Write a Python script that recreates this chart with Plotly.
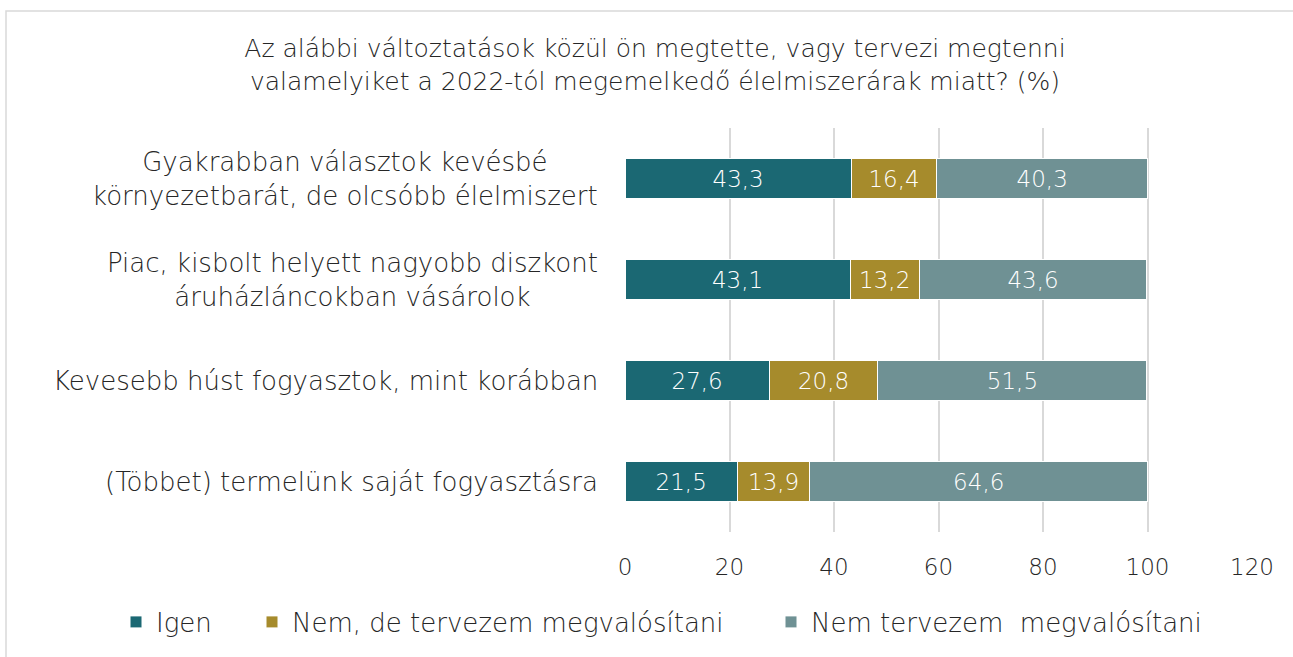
import plotly.graph_objects as go

categories = [
    "Gyakrabban választok kevésbé<br>környezetbarát, de olcsóbb élelmiszert",
    "Piac, kisbolt helyett nagyobb diszkont<br>áruházláncokban vásárolok",
    "Kevesebb húst fogyasztok, mint korábban",
    "(Többet) termelünk saját fogyasztásra",
]
series_names = ["Igen", "Nem, de tervezem megvalósítani", "Nem tervezem  megvalósítani"]
igen = [43.3, 43.1, 27.6, 21.5]
tervezem = [16.4, 13.2, 20.8, 13.9]
nem = [40.3, 43.6, 51.5, 64.6]
tick_vals = [0, 20, 40, 60, 80, 100, 120]
title_text = ("Az alábbi változtatások közül ön megtette, vagy tervezi megtenni<br>"
              "valamelyiket a 2022-tól megemelkedő élelmiszerárak miatt? (%)")

colors = ["#1b6873", "#a68b2c", "#6f9194"]
FONT = "DejaVu Sans ExtraLight, DejaVu Sans"
FW = 200
TXT = "#262626"

W, H = 1293, 657
L, R, T, B = 625, 41, 128, 125
pw, ph = W - L - R, H - T - B

legend_ids = ["legend", "legend2", "legend3"]
legend_px = [116, 252, 771]

fig = go.Figure()
for name, vals, col, lg in zip(series_names, [igen, tervezem, nem], colors, legend_ids):
    fig.add_trace(go.Bar(
        y=categories, x=vals, name=name, orientation="h", legend=lg,
        marker=dict(color=col, line=dict(color="white", width=1)),
        texttemplate="%{x:.1f}", textposition="inside", insidetextanchor="middle",
        textangle=0, constraintext="none",
        textfont=dict(color="white", size=23, family=FONT, weight=FW),
        width=0.4,
    ))

for c in categories:
    fig.add_annotation(x=(600 - L) / pw, xref="paper", y=c, yref="y",
                       text=c, showarrow=False, xanchor="right", yanchor="middle",
                       align="center",
                       font=dict(size=26, color=TXT, family=FONT, weight=FW))

# outer border
fig.add_shape(type="rect", xref="paper", yref="paper",
              x0=(6 - L) / pw, x1=(W + 20 - L) / pw,
              y0=-(H + 20 - T - ph) / ph, y1=1 + (T - 11) / ph,
              line=dict(color="#d9d9d9", width=1.5), fillcolor="rgba(0,0,0,0)", layer="below")

legend_common = dict(orientation="h", xanchor="left", y=-(622 - T - ph) / ph, yanchor="middle",
                     font=dict(size=26, color=TXT, family=FONT, weight=FW), itemwidth=30,
                     bgcolor="rgba(0,0,0,0)")

fig.update_layout(
    width=W, height=H,
    barmode="stack",
    separators=",.",
    paper_bgcolor="white", plot_bgcolor="white",
    margin=dict(l=L, r=R, t=T, b=B, autoexpand=False),
    title=dict(text=title_text, x=655 / W, xanchor="center", y=1 - 57 / H, yanchor="middle",
               font=dict(size=25, color=TXT, family=FONT, weight=FW)),
    xaxis=dict(range=[0, 120], tickvals=tick_vals, showgrid=True, gridcolor="#d9d9d9", gridwidth=1.5,
               zeroline=False, showline=False, ticklabelstandoff=19,
               tickfont=dict(size=23, color=TXT, family=FONT, weight=FW), ticks=""),
    yaxis=dict(categoryorder="array", categoryarray=categories[::-1],
               showticklabels=False, showgrid=False, zeroline=False),
    legend=dict(x=(legend_px[0] - L) / pw, **legend_common),
    legend2=dict(x=(legend_px[1] - L) / pw, **legend_common),
    legend3=dict(x=(legend_px[2] - L) / pw, **legend_common),
    showlegend=True,
)

fig.write_html("out.html", config={"displayModeBar": False},
               post_script="document.body.style.margin='0px';")
